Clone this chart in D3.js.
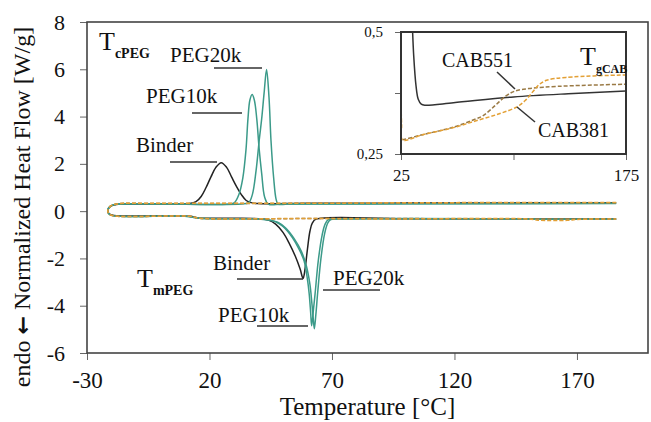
<!DOCTYPE html>
<html>
<head>
<meta charset="utf-8">
<script src="https://cdn.jsdelivr.net/npm/d3@7"></script>
<style>
  body { margin: 0; background: #fff; }
</style>
</head>
<body>
<div id="chart"></div>
<script>
// tick values
const xTicks = [-30, 20, 70, 120, 170];
const yTicks = [-6, -4, -2, 0, 2, 4, 6, 8];
const insetXTicks = [25, 100, 175];
const insetXLabels = ["25", "", "175"];
const insetYTicks = [0.25, 0.375, 0.5];
const insetYLabels = ["0,25", "", "0,5"];

// DSC traces [temperature, heat flow], cooling (right to left) then heating (left to right)
const binder = [
  [186, 0.36], [150, 0.35], [100, 0.34], [60, 0.33], [40, 0.32], [37, 0.36], [35, 0.45],
  [33, 0.7], [31, 1.05], [29, 1.45], [27, 1.85], [24.8, 2.05], [22.6, 1.85], [20.6, 1.45],
  [18.6, 1.0], [16.6, 0.62], [14.5, 0.4], [12, 0.32], [5, 0.3], [-10, 0.3], [-18, 0.28],
  [-20.5, 0.2], [-21.5, 0.04], [-21, -0.11], [-19, -0.18], [0, -0.2], [12, -0.22],
  [16, -0.29], [30, -0.3], [40, -0.32], [44, -0.38], [47, -0.55], [50, -0.9], [52.5, -1.35],
  [55, -1.9], [57, -2.45], [58.2, -2.85], [59, -2.45], [60, -1.6], [61, -0.85], [62, -0.5],
  [63.5, -0.34], [100, -0.32], [186, -0.33]
];
const peg10k = [
  [186, 0.33], [100, 0.31], [50, 0.3], [44, 0.3], [42.5, 0.6], [41.3, 1.6], [40.3, 2.6],
  [39.3, 3.9], [38.3, 4.7], [37.4, 4.93], [36.5, 4.7], [35.7, 3.9], [34.9, 2.6], [33.6, 1.4],
  [32, 0.7], [30.2, 0.36], [28, 0.3], [0, 0.3], [-18, 0.29], [-20.5, 0.2], [-21.5, 0.03],
  [-21, -0.12], [-19, -0.2], [10, -0.22], [16, -0.3], [40, -0.33], [44, -0.38], [47, -0.45],
  [50, -0.65], [53.9, -1.13], [56.5, -1.6], [58.6, -2.1], [60, -2.9], [60.7, -3.5],
  [61.3, -4.3], [61.7, -4.85], [62.3, -4.3], [63.1, -3.5], [64.4, -2.1], [66, -1.0],
  [67.2, -0.55], [68.5, -0.36], [72, -0.33], [120, -0.33], [186, -0.34]
];
const peg20k = [
  [186, 0.32], [100, 0.31], [52, 0.3], [48, 0.3], [47.2, 0.5], [46.2, 1.4], [45.1, 3.0],
  [44.3, 4.8], [43.3, 5.99], [42.3, 5.0], [41.3, 3.9], [40.3, 3.0], [39, 1.7], [37.5, 0.7],
  [36, 0.36], [33, 0.3], [0, 0.3], [-18, 0.29], [-20.5, 0.2], [-21.5, 0.03], [-21, -0.12],
  [-19, -0.2], [10, -0.22], [16, -0.3], [41, -0.33], [45, -0.38], [48, -0.48], [51, -0.7],
  [54.5, -1.15], [57.5, -1.7], [59.5, -2.3], [61, -3.1], [61.8, -3.9], [62.4, -4.6],
  [62.8, -4.97], [63.4, -4.4], [64.2, -3.4], [65.5, -2.0], [67, -0.95], [68.3, -0.5],
  [69.5, -0.36], [73, -0.33], [186, -0.34]
];
const cab381 = [
  [186, 0.37], [120, 0.36], [90, 0.35], [60, 0.33], [0, 0.33], [-18, 0.3], [-20.5, 0.2],
  [-21.5, 0.03], [-21, -0.12], [-19, -0.2], [12, -0.22], [16, -0.3], [60, -0.31],
  [90, -0.33], [150, -0.33], [154, -0.38], [166, -0.39], [170, -0.35], [186, -0.33]
];
const cab551 = [
  [186, 0.36], [120, 0.35], [60, 0.33], [0, 0.32], [-18, 0.3], [-20.5, 0.2], [-21.5, 0.03],
  [-21, -0.12], [-19, -0.2], [12, -0.22], [16, -0.3], [70, -0.31], [186, -0.33]
];

// inset: glass transition region of CAB
const binderInset = [
  [32.5, 0.52], [33.5, 0.45], [35, 0.39], [36.5, 0.362], [38.5, 0.352], [41, 0.35],
  [60, 0.355], [100, 0.367], [140, 0.374], [175, 0.379]
];
const cab551Inset = [
  [26, 0.279], [40, 0.29], [60, 0.305], [75, 0.322], [80, 0.329], [88, 0.35], [95, 0.369],
  [101, 0.379], [110, 0.384], [120, 0.387], [140, 0.39], [175, 0.393]
];
const cab381Inset = [
  [25, 0.36], [25.4, 0.31], [26, 0.279], [40, 0.29], [60, 0.304], [75, 0.318], [90, 0.332],
  [102, 0.346], [108, 0.36], [113, 0.378], [117, 0.392], [122, 0.401], [135, 0.407],
  [175, 0.412]
];

const W = 651, H = 422;
const SERIF = "'Liberation Serif', 'Times New Roman', serif";
const BLACK = "#222", TEAL = "#3b9a89", ORANGE = "#e3a035", BROWN = "#9a7a45";

const svg = d3.select("#chart").append("svg")
  .attr("width", W).attr("height", H)
  .attr("viewBox", `0 0 ${W} ${H}`)
  .style("font-family", SERIF);

// main scales
const x = d3.scaleLinear().domain([-30, 199]).range([87, 648]);
const y = d3.scaleLinear().domain([-6, 8]).range([353, 22]);

const line = d3.line()
  .x((d) => x(d[0]))
  .y((d) => y(d[1]))
  .curve(d3.curveCatmullRom.alpha(0.5));

// axes (plain hyphen for negatives, as in the figure)
const yAxis = svg.append("g")
  .attr("transform", `translate(${x.range()[0]},0)`)
  .call(d3.axisLeft(y).tickValues(yTicks).tickSize(7).tickPadding(15)
    .tickFormat((d) => String(d)))
  .style("font-family", SERIF).attr("font-size", 22);
yAxis.select(".domain").remove();
yAxis.selectAll("line").attr("stroke", "#666");
yAxis.selectAll("text").attr("fill", "#111");

const xAxis = svg.append("g")
  .attr("transform", `translate(0,${y.range()[0]})`)
  .call(d3.axisBottom(x).tickValues(xTicks).tickSize(7).tickPadding(12)
    .tickFormat((d) => String(d)))
  .style("font-family", SERIF).attr("font-size", 23);
xAxis.select(".domain").remove();
xAxis.selectAll("line").attr("stroke", "#666");
xAxis.selectAll("text").attr("fill", "#111");

// frame
svg.append("rect")
  .attr("x", x.range()[0]).attr("y", y.range()[1])
  .attr("width", x.range()[1] - x.range()[0])
  .attr("height", y.range()[0] - y.range()[1])
  .attr("fill", "none").attr("stroke", "#444").attr("stroke-width", 1.6);

// axis titles
svg.append("text")
  .attr("x", (x.range()[0] + x.range()[1]) / 2).attr("y", 415)
  .attr("text-anchor", "middle").attr("font-size", 25).attr("fill", "#111")
  .text("Temperature [°C]");

const yTitle = svg.append("text")
  .attr("transform", "translate(30,207) rotate(-90)")
  .attr("text-anchor", "middle").attr("font-size", 24).attr("fill", "#111");
yTitle.append("tspan").text("endo ");
yTitle.append("tspan").style("font-family", "'DejaVu Sans'").attr("font-weight", "bold")
  .attr("font-size", 22).text("←");
yTitle.append("tspan").text(" Normalized Heat Flow [W/g]");

// traces
const traces = [
  { data: binder, color: BLACK, dash: null },
  { data: peg10k, color: TEAL, dash: null },
  { data: peg20k, color: TEAL, dash: null },
  { data: cab551, color: BROWN, dash: "4,2" },
  { data: cab381, color: ORANGE, dash: "4,2" }
];
svg.append("g").selectAll("path").data(traces).join("path")
  .attr("d", (d) => line(d.data))
  .attr("fill", "none")
  .attr("stroke", (d) => d.color)
  .attr("stroke-width", 1.5)
  .attr("stroke-dasharray", (d) => d.dash);

// annotations
function label(g, px, py, txt, size) {
  return g.append("text").attr("x", px).attr("y", py)
    .attr("font-size", size).attr("fill", "#111").text(txt);
}
function leader(g, x1, y1, x2, y2) {
  g.append("line").attr("x1", x1).attr("y1", y1).attr("x2", x2).attr("y2", y2)
    .attr("stroke", "#333").attr("stroke-width", 1.5);
}
function symbol(g, px, py, sub, size, subSize, dy) {
  const t = g.append("text").attr("x", px).attr("y", py)
    .attr("font-size", size).attr("fill", "#111");
  t.append("tspan").text("T");
  t.append("tspan").attr("font-size", subSize).attr("font-weight", "bold")
    .attr("dy", dy).text(sub);
  return t;
}
const ann = svg.append("g");
symbol(ann, 99, 50, "cPEG", 26, 14, 8);
label(ann, 170, 62, "PEG20k", 21);
leader(ann, 214, 68, 262, 68);
label(ann, 146, 103, "PEG10k", 21);
leader(ann, 192, 113, 242, 113);
label(ann, 136, 152, "Binder", 21);
leader(ann, 170, 162, 217, 162);

symbol(ann, 137, 287, "mPEG", 26, 14, 8);
label(ann, 213, 270, "Binder", 21);
leader(ann, 237, 279, 303, 279);
label(ann, 218, 322, "PEG10k", 21);
leader(ann, 257, 326, 308, 326);
label(ann, 333, 285, "PEG20k", 21);
leader(ann, 323, 290, 380, 290);

// inset
const ix = d3.scaleLinear().domain([25, 175]).range([401, 626]);
const iy = d3.scaleLinear().domain([0.25, 0.5]).range([154, 32]);
const inset = svg.append("g");
inset.append("rect")
  .attr("x", 401).attr("y", 32).attr("width", 225).attr("height", 122)
  .attr("fill", "#fff");
inset.append("clipPath").attr("id", "insetClip").append("rect")
  .attr("x", 401).attr("y", 32).attr("width", 225).attr("height", 122);

const iyAxis = inset.append("g").attr("transform", "translate(401,0)")
  .call(d3.axisLeft(iy).tickValues(insetYTicks).tickSize(6).tickPadding(12)
    .tickFormat((d, i) => insetYLabels[i]))
  .style("font-family", SERIF).attr("font-size", 15);
iyAxis.select(".domain").remove();
iyAxis.selectAll("line").attr("stroke", "#666");
iyAxis.selectAll("text").attr("fill", "#111");

const ixAxis = inset.append("g").attr("transform", "translate(0,154)")
  .call(d3.axisBottom(ix).tickValues(insetXTicks).tickSize(6).tickPadding(9)
    .tickFormat((d, i) => insetXLabels[i]))
  .style("font-family", SERIF).attr("font-size", 17);
ixAxis.select(".domain").remove();
ixAxis.selectAll("line").attr("stroke", "#666");
ixAxis.selectAll("text").attr("fill", "#111");

const iline = d3.line()
  .x((d) => ix(d[0]))
  .y((d) => iy(d[1]))
  .curve(d3.curveCatmullRom.alpha(0.5));
const insetTraces = [
  { data: binderInset, color: "#333", dash: null },
  { data: cab551Inset, color: BROWN, dash: "4,2" },
  { data: cab381Inset, color: ORANGE, dash: "4,2" }
];
inset.append("g").attr("clip-path", "url(#insetClip)")
  .selectAll("path").data(insetTraces).join("path")
  .attr("d", (d) => iline(d.data))
  .attr("fill", "none")
  .attr("stroke", (d) => d.color)
  .attr("stroke-width", 1.5)
  .attr("stroke-dasharray", (d) => d.dash);

inset.append("rect")
  .attr("x", 401).attr("y", 32).attr("width", 225).attr("height", 122)
  .attr("fill", "none").attr("stroke", "#333").attr("stroke-width", 2);

label(inset, 442, 67, "CAB551", 20);
leader(inset, 497, 72, 515, 89);
label(inset, 538, 137, "CAB381", 20);
leader(inset, 517, 107, 535, 122);
symbol(inset, 580, 65, "gCAB", 26, 12, 8);
</script>
</body>
</html>
